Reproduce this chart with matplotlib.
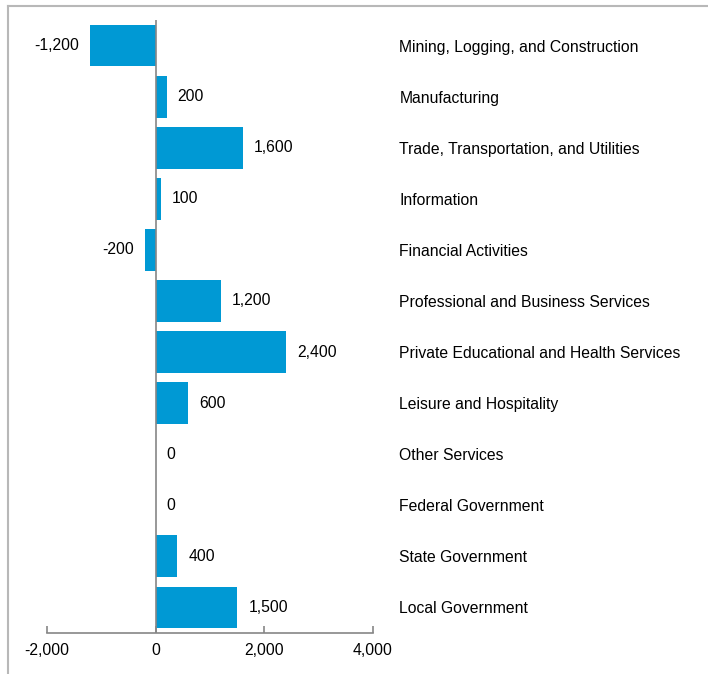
import matplotlib
matplotlib.use("Agg")
import matplotlib.pyplot as plt
from matplotlib.lines import Line2D

categories = ["Mining, Logging, and Construction", "Manufacturing",
              "Trade, Transportation, and Utilities", "Information",
              "Financial Activities", "Professional and Business Services",
              "Private Educational and Health Services", "Leisure and Hospitality",
              "Other Services", "Federal Government", "State Government",
              "Local Government"]
values = [-1200, 200, 1600, 100, -200, 1200, 2400, 600, 0, 0, 400, 1500]
xticks = [-2000, 0, 2000, 4000]

plt.rcParams['font.family'] = ['Liberation Sans', 'DejaVu Sans']
fs = 11.3

W, H = 708, 674
fig = plt.figure(figsize=(W / 100, H / 100), dpi=100)
ax = fig.add_axes([47 / W, 1 - 633 / H, (373 - 47) / W, (633 - 20) / H])

pos = list(range(len(categories)))
ax.barh(pos, values, height=0.82, color="#0099D4", zorder=2)
ax.set_ylim(len(categories) - 0.5, -0.5)
ax.set_xlim(-2000, 4000)
ax.axvline(0, color="#868686", lw=1.2, zorder=3)

# value labels
for y, v in zip(pos, values):
    txt = f"{v:,}"
    if v < 0:
        ax.annotate(txt, (v, y), xytext=(-8, 0), textcoords="offset points",
                    ha="right", va="center", fontsize=fs)
    else:
        ax.annotate(txt, (v, y), xytext=(8, 0), textcoords="offset points",
                    ha="left", va="center", fontsize=fs)

ax.set_xticks(xticks)
ax.set_xticklabels([f"{t:,}" for t in xticks], fontsize=fs)
ax.tick_params(axis="x", direction="in", length=5, color="#868686", width=1.2, pad=7)

ax.yaxis.tick_right()
ax.set_yticks(pos)
ax.set_yticklabels(categories, fontsize=fs)
ax.tick_params(axis="y", length=0, pad=19)

for s in ["top", "right", "left"]:
    ax.spines[s].set_visible(False)
ax.spines["bottom"].set_color("#868686")
ax.spines["bottom"].set_linewidth(1.2)

# outer frame (top and left edges only visible)
fig.add_artist(Line2D([8 / W, 1], [1 - 6 / H, 1 - 6 / H], transform=fig.transFigure,
                      color="#b8b8b8", lw=1.5))
fig.add_artist(Line2D([8 / W, 8 / W], [0, 1 - 6 / H], transform=fig.transFigure,
                      color="#b8b8b8", lw=1.5))

fig.savefig("out.png", dpi=100)
